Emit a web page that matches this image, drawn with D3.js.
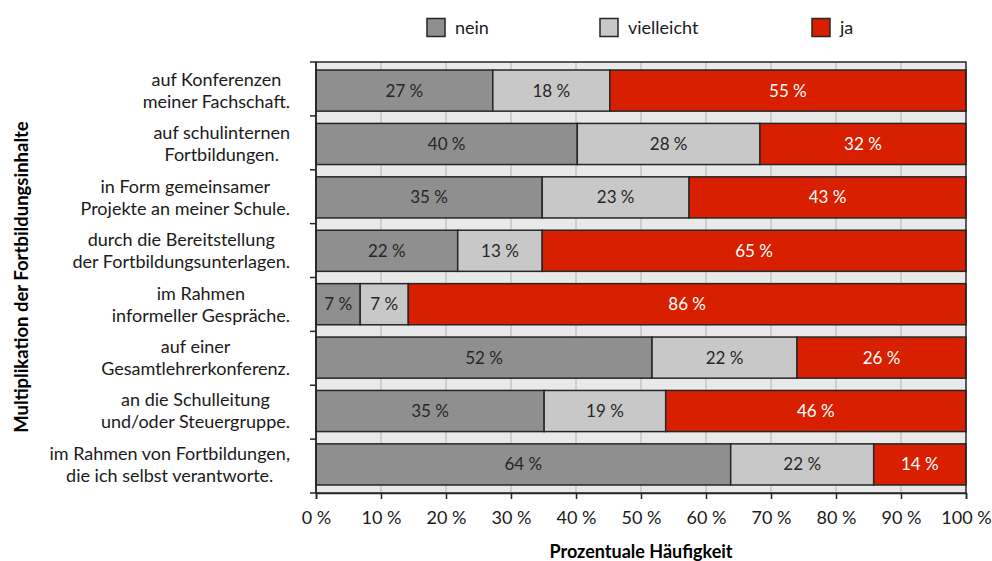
<!DOCTYPE html>
<html><head><meta charset="utf-8">
<script src="https://cdn.jsdelivr.net/npm/d3@7"></script>
<style>body{margin:0;background:#fff;}svg{display:block;font-family:Lato,"Open Sans",sans-serif;}</style>
</head><body><svg id="c" width="992" height="561"></svg>
<script>
const categories = [
  ["auf Konferenzen","meiner Fachschaft."],
  ["auf schulinternen","Fortbildungen."],
  ["in Form gemeinsamer","Projekte an meiner Schule."],
  ["durch die Bereitstellung","der Fortbildungsunterlagen."],
  ["im Rahmen","informeller Gespräche."],
  ["auf einer","Gesamtlehrerkonferenz."],
  ["an die Schulleitung","und/oder Steuergruppe."],
  ["im Rahmen von Fortbildungen,","die ich selbst verantworte."]
];
const seriesNames = ["nein","vielleicht","ja"];
const nein       = [27.2, 40.2, 34.8, 21.8, 6.8, 51.7, 35.1, 63.8];
const vielleicht = [18.0, 28.1, 22.6, 13.0, 7.4, 22.3, 18.7, 22.0];
const ja         = [54.8, 31.7, 42.6, 65.2, 85.8, 26.0, 46.2, 14.2];
const tickValues = [0,10,20,30,40,50,60,70,80,90,100];
const colors = ["#8f8f8f","#c8c8c8","#d82000"];
const textColors = ["#262626","#262626","#ffffff"];

const svg = d3.select("#c");
const L = 316, R = 966, T = 62, B = 493;
const x = d3.scaleLinear().domain([0,100]).range([L,R]);
const y = d3.scaleBand().domain(d3.range(categories.length)).range([T,B]).paddingInner(0.23).paddingOuter(0.15);

svg.append("rect").attr("x",L).attr("y",T).attr("width",R-L).attr("height",B-T).attr("fill","#e9e9e9");
svg.append("g").selectAll("line").data(tickValues.slice(1,-1)).join("line")
  .attr("x1",d=>x(d)).attr("x2",d=>x(d)).attr("y1",T).attr("y2",B)
  .attr("stroke","#c4c4c4").attr("stroke-width",1.5);

const data = categories.map((c,i)=>[nein[i],vielleicht[i],ja[i]]);
const rows = svg.append("g").selectAll("g").data(data).join("g");
rows.each(function(vals,i){
  let acc = 0;
  const g = d3.select(this);
  vals.forEach((v,k)=>{
    const x0 = x(acc), x1 = x(acc+v);
    g.append("rect").attr("x",x0).attr("y",y(i)).attr("width",x1-x0).attr("height",y.bandwidth())
      .attr("fill",colors[k]).attr("stroke","#262626").attr("stroke-width",1.5);
    g.append("text").attr("x",(x0+x1)/2).attr("y",y(i)+y.bandwidth()/2).attr("dy","0.35em")
      .attr("text-anchor","middle").attr("font-size",17).attr("fill",textColors[k])
      .text(Math.round(v)+" %");
    acc += v;
  });
});

// frame
svg.append("rect").attr("x",L).attr("y",T).attr("width",R-L).attr("height",B-T).attr("fill","none").attr("stroke","#262626").attr("stroke-width",1.5);

// x axis
const xa = svg.append("g").attr("transform",`translate(0,${B})`)
  .call(d3.axisBottom(x).tickValues(tickValues).tickSize(6).tickFormat(d=>d+" %"));
xa.select(".domain").attr("stroke","#262626").attr("stroke-width",1.5);
xa.selectAll(".tick line").attr("stroke","#262626").attr("stroke-width",1.5);
xa.selectAll("text").attr("font-size",18).attr("fill","#1a1a1a").attr("font-family","Lato,sans-serif").attr("dy","1.2em");

// y axis ticks at band boundaries
const bounds = d3.range(categories.length+1).map(i=> T + i*(B-T)/categories.length);
svg.append("g").selectAll("line").data(bounds).join("line")
  .attr("x1",L-6).attr("x2",L).attr("y1",d=>d).attr("y2",d=>d).attr("stroke","#262626").attr("stroke-width",1.5);
svg.append("line").attr("x1",L).attr("x2",L).attr("y1",T).attr("y2",B).attr("stroke","#262626").attr("stroke-width",1.5);

// category labels
const labG = svg.append("g").attr("font-size",18).attr("fill","#1a1a1a");
categories.forEach((lines,i)=>{
  const cy = y(i)+y.bandwidth()/2;
  const t = labG.append("text").attr("text-anchor","middle");
  const spans = lines.map((ln,j)=> t.append("tspan").attr("y", cy + (j-0.5)*22).attr("dy","0.35em").text(ln));
  const w = d3.max(spans, s=>s.node().getComputedTextLength());
  const cx = 290 - w/2;
  spans.forEach(s=>s.attr("x",cx));
});

// axis titles
svg.append("text").attr("transform","translate(28,277) rotate(-90)").attr("text-anchor","middle")
  .attr("font-size",18.5).attr("font-weight","bold").attr("fill","#000").text("Multiplikation der Fortbildungsinhalte");
svg.append("text").attr("x",(L+R)/2).attr("y",558).attr("text-anchor","middle")
  .attr("font-size",18).attr("font-weight","bold").attr("fill","#000").text("Prozentuale Häufigkeit");

// legend
const legX = [427,600,812];
const leg = svg.append("g");
seriesNames.forEach((n,k)=>{
  leg.append("rect").attr("x",legX[k]).attr("y",18.5).attr("width",18).attr("height",18)
    .attr("fill",colors[k]).attr("stroke","#262626").attr("stroke-width",1.5);
  leg.append("text").attr("x",legX[k]+28).attr("y",27.5).attr("dy","0.35em").attr("font-size",18).attr("fill","#1a1a1a").text(n);
});
</script></body></html>
